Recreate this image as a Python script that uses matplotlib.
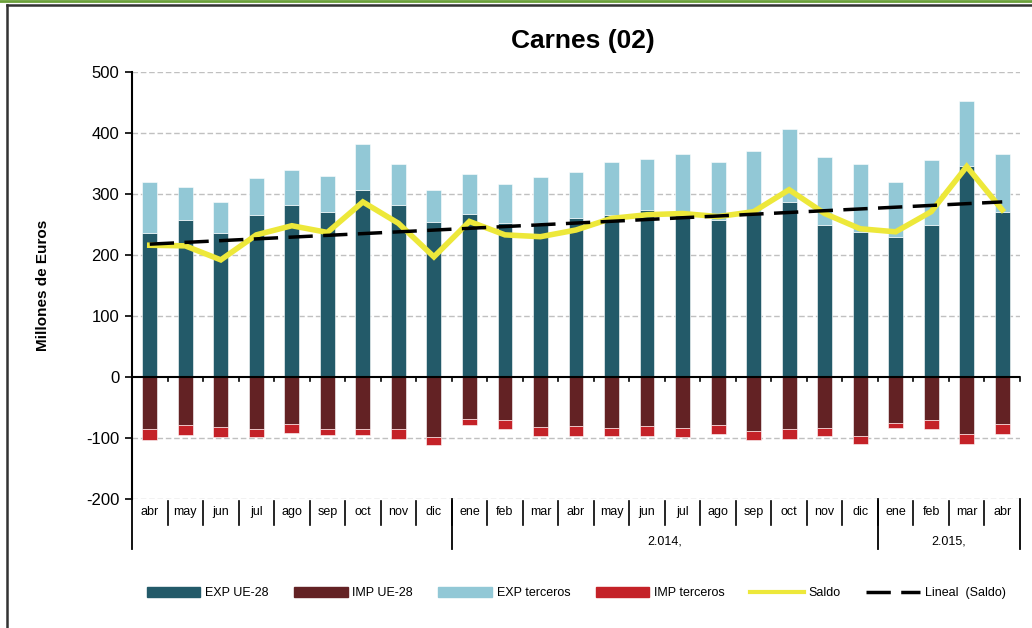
import numpy as np
import matplotlib
matplotlib.use('Agg')
import matplotlib.pyplot as plt
from matplotlib.lines import Line2D
from matplotlib.patches import Patch
import matplotlib.transforms as mtransforms

plt.rcParams['font.family'] = ['Liberation Sans', 'DejaVu Sans']
plt.rcParams['axes.unicode_minus'] = False

# months abr 2013 .. abr 2015
months = ['abr', 'may', 'jun', 'jul', 'ago', 'sep', 'oct', 'nov', 'dic',
          'ene', 'feb', 'mar', 'abr', 'may', 'jun', 'jul', 'ago', 'sep', 'oct', 'nov', 'dic',
          'ene', 'feb', 'mar', 'abr']
years = ['', '2.014,', '2.015,']
year_sizes = [9, 12, 4]

exp_ue = [236, 257, 236, 266, 282, 270, 306, 282, 254,
          268, 252, 252, 261, 266, 274, 269, 258, 271, 287, 249, 238,
          230, 249, 346, 270]
exp_terc = [84, 54, 51, 60, 57, 60, 76, 67, 52,
            65, 65, 76, 75, 86, 83, 97, 94, 100, 119, 112, 111,
            90, 106, 106, 96]
imp_ue = [-85, -79, -82, -85, -77, -85, -85, -85, -98,
          -69, -71, -82, -80, -83, -80, -83, -78, -88, -86, -83, -96,
          -75, -71, -93, -77]
imp_terc = [-18, -16, -16, -13, -14, -10, -10, -16, -14,
            -10, -14, -14, -16, -13, -16, -15, -15, -16, -15, -13, -14,
            -8, -14, -17, -16]
saldo = [216, 215, 192, 233, 248, 237, 287, 252, 197,
         255, 233, 230, 241, 260, 266, 268, 263, 271, 307, 268, 243,
         238, 271, 345, 274]

C_EXP_UE = '#235A69'
C_IMP_UE = '#632224'
C_EXP_T = '#92C8D6'
C_IMP_T = '#C42228'
C_SALDO = '#EDE83A'
DASH = (0, (7, 3))

fig = plt.figure(figsize=(10.32, 6.28), dpi=100)
ax = fig.add_axes([132 / 1032, 1 - 499 / 628, (1020 - 132) / 1032, (499 - 72) / 628])

x = np.arange(len(months))
w = 0.42
ax.bar(x, exp_ue, w, color=C_EXP_UE, edgecolor='white', linewidth=0.4, zorder=2)
ax.bar(x, exp_terc, w, bottom=exp_ue, color=C_EXP_T, edgecolor='white', linewidth=0.4, zorder=2)
ax.bar(x, imp_ue, w, color=C_IMP_UE, edgecolor='white', linewidth=0.4, zorder=2)
ax.bar(x, imp_terc, w, bottom=imp_ue, color=C_IMP_T, edgecolor='white', linewidth=0.4, zorder=2)

ax.plot(x, saldo, color=C_SALDO, lw=4, solid_joinstyle='miter', zorder=3)
coef = np.polyfit(x, saldo, 1)  # tendencia lineal del saldo
ax.plot(x, np.polyval(coef, x), color='black', lw=2.5, ls=DASH, zorder=4)

ax.set_xlim(-0.5, len(months) - 0.5)
ax.set_ylim(-200, 500)
ax.set_yticks(range(-200, 501, 100))
ax.tick_params(axis='y', labelsize=12, length=5, width=1.2, direction='out', pad=4)
for v in range(-200, 501, 100):
    if v != 0:
        ax.axhline(v, color='#c0c0c0', lw=1, ls=(0, (4, 2)), zorder=0)
ax.axhline(0, color='black', lw=1.5, zorder=5)
ax.set_ylabel('Millones de Euros', fontsize=11, fontweight='bold', labelpad=26)

for s in ['top', 'right', 'bottom']:
    ax.spines[s].set_visible(False)
ax.spines['left'].set_linewidth(1.5)
ax.spines['left'].set_bounds(-200, 500)
ax.set_xticks([])

# small ticks on zero line at category boundaries
for b in np.arange(0.5, len(months), 1.0):
    ax.plot([b, b], [0, -7], color='black', lw=1.2, zorder=5, clip_on=False)

# category labels table under the axes
trans = mtransforms.blended_transform_factory(ax.transData, ax.transAxes)
for i, m in enumerate(months):
    ax.text(i, -0.031, m, transform=trans, ha='center', va='center', fontsize=9)
for b in np.arange(0.5, len(months) - 1, 1.0):
    ax.plot([b, b], [-0.004, -0.061], transform=trans, color='black', lw=1.2, clip_on=False)
start = -0.5
bounds = [start]
for n, yl in zip(year_sizes, years):
    end = start + n
    if yl:
        ax.text((start + end) / 2, -0.099, yl, transform=trans, ha='center', va='center', fontsize=9)
    bounds.append(end)
    start = end
for b in bounds:
    ax.plot([b, b], [0, -0.116], transform=trans, color='black', lw=1.3, clip_on=False)

fig.text(583 / 1032, 1 - 41 / 628, 'Carnes (02)', ha='center', va='center', fontsize=19, fontweight='bold')

# frame
fig.add_artist(Line2D([0, 1], [1 - 1 / 628, 1 - 1 / 628], color='#6aa03a', lw=2, transform=fig.transFigure))
fig.add_artist(Line2D([6.5 / 1032, 1], [1 - 5 / 628, 1 - 5 / 628], color='#333333', lw=1.8, transform=fig.transFigure))
fig.add_artist(Line2D([6.5 / 1032, 6.5 / 1032], [0, 1 - 5 / 628], color='#333333', lw=1.8, transform=fig.transFigure))

handles = [Patch(color=C_EXP_UE), Patch(color=C_IMP_UE), Patch(color=C_EXP_T), Patch(color=C_IMP_T),
           Line2D([], [], color=C_SALDO, lw=3), Line2D([], [], color='black', lw=2.5, ls=DASH)]
labels = ['EXP UE-28', 'IMP UE-28', 'EXP terceros', 'IMP terceros', 'Saldo', 'Lineal  (Saldo)']
fig.legend(handles, labels, loc='center', bbox_to_anchor=(576 / 1032, 1 - 593 / 628), ncol=6,
           frameon=False, fontsize=9, handlelength=4.3, handleheight=0.9, columnspacing=2.0,
           handletextpad=0.4)

fig.savefig('out.png', dpi=100)
